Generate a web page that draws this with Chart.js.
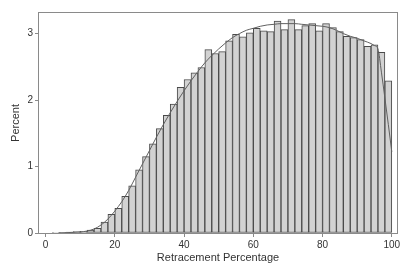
<!DOCTYPE html>
<html><head><meta charset="utf-8">
<script src="https://cdn.jsdelivr.net/npm/chart.js@4"></script>
<style>html,body{margin:0;padding:0;background:#fff;}canvas{display:block}</style>
</head><body>
<canvas id="c" width="415" height="270"></canvas>
<script>
// Histogram bins (width 2) – centers
const binCenters = [1,3,5,7,9,11,13,15,17,19,21,23,25,27,29,31,33,35,37,39,41,43,45,47,49,51,53,55,57,59,61,63,65,67,69,71,73,75,77,79,81,83,85,87,89,91,93,95,97,99];
const percentValues = [0,0.005,0.01,0.015,0.02,0.025,0.045,0.07,0.165,0.28,0.37,0.55,0.71,0.95,1.15,1.34,1.57,1.77,1.94,2.19,2.31,2.41,2.49,2.76,2.70,2.73,2.89,2.99,2.95,3.01,3.08,3.04,3.03,3.19,3.06,3.21,3.06,3.12,3.15,3.04,3.15,3.09,3.03,2.96,2.94,2.91,2.81,2.83,2.72,2.29];
// Density curve
const curveX = [4,6,8,10,12,14,16,18,20,22,24,26,28,30,32,34,36,38,40,42,44,46,48,50,52,54,56,58,60,62,64,66,68,70,72,74,76,78,80,82,84,86,88,90,92,94,95,96,97,98,99,100];
const curveY = [0.002,0.005,0.01,0.015,0.03,0.06,0.12,0.21,0.33,0.47,0.64,0.84,1.04,1.24,1.44,1.63,1.81,1.98,2.14,2.29,2.43,2.56,2.67,2.77,2.86,2.94,3.0,3.05,3.08,3.11,3.13,3.14,3.15,3.15,3.15,3.14,3.13,3.12,3.11,3.09,3.05,3.0,2.96,2.93,2.89,2.85,2.82,2.77,2.42,2.03,1.63,1.22];
const xTicks = [0,20,40,60,80,100];
const yTicks = [0,1,2,3];
const xTitle = 'Retracement Percentage';
const yTitle = 'Percent';

Chart.defaults.font.family = "'Liberation Sans', Arial, sans-serif";
Chart.defaults.font.size = 11;
Chart.defaults.color = '#333';

const framePlugin = {
  id: 'frame',
  afterDatasetsDraw(chart) {
    const {ctx, chartArea: a} = chart;
    ctx.save();
    ctx.strokeStyle = '#8a8a8a';
    ctx.lineWidth = 1;
    ctx.strokeRect(Math.round(a.left) - 0.5, Math.round(a.top) - 0.5,
      Math.round(a.right) - Math.round(a.left) + 1, Math.round(a.bottom) - Math.round(a.top) + 1);
    ctx.restore();
  }
};

new Chart(document.getElementById('c'), {
  type: 'bar',
  data: {
    datasets: [
      {
        type: 'line',
        data: curveX.map((x, i) => ({x: x, y: curveY[i]})),
        borderColor: '#606060',
        borderWidth: 1,
        pointRadius: 0,
        fill: false,
        cubicInterpolationMode: 'monotone',
        order: 0
      },
      {
        type: 'bar',
        data: binCenters.map((x, i) => ({x: x, y: percentValues[i]})),
        backgroundColor: '#d2d2d2',
        borderColor: '#4a4a4a',
        borderWidth: 1,
        borderSkipped: false,
        barPercentage: 1,
        categoryPercentage: 1,
        order: 1
      }
    ]
  },
  options: {
    responsive: false,
    devicePixelRatio: 1,
    animation: false,
    layout: {padding: {top: 13, right: 18, left: 0, bottom: 0}},
    plugins: {legend: {display: false}, tooltip: {enabled: false}},
    scales: {
      x: {
        type: 'linear',
        min: -1.9, max: 101.5,
        offset: false,
        grid: {display: true, drawOnChartArea: false, drawTicks: true, tickLength: 4, color: '#8a8a8a', offset: false},
        border: {display: false},
        ticks: {padding: 2, color: '#333', font: {size: 10}},
        afterBuildTicks: s => { s.ticks = xTicks.map(v => ({value: v})); },
        afterFit: s => { s.height = 37; },
        title: {display: true, text: xTitle, color: '#333', font: {size: 11}, padding: {top: 0, bottom: 5}}
      },
      y: {
        type: 'linear',
        min: 0, max: 3.31,
        grid: {display: true, drawOnChartArea: false, drawTicks: true, tickLength: 4, color: '#8a8a8a'},
        border: {display: false},
        ticks: {padding: 2, color: '#333', font: {size: 10}},
        afterBuildTicks: s => { s.ticks = yTicks.map(v => ({value: v})); },
        afterFit: s => { s.width = 39; },
        title: {display: true, text: yTitle, color: '#333', font: {size: 11}, padding: {top: 9, bottom: 0}}
      }
    }
  },
  plugins: [framePlugin]
});
</script>
</body></html>
